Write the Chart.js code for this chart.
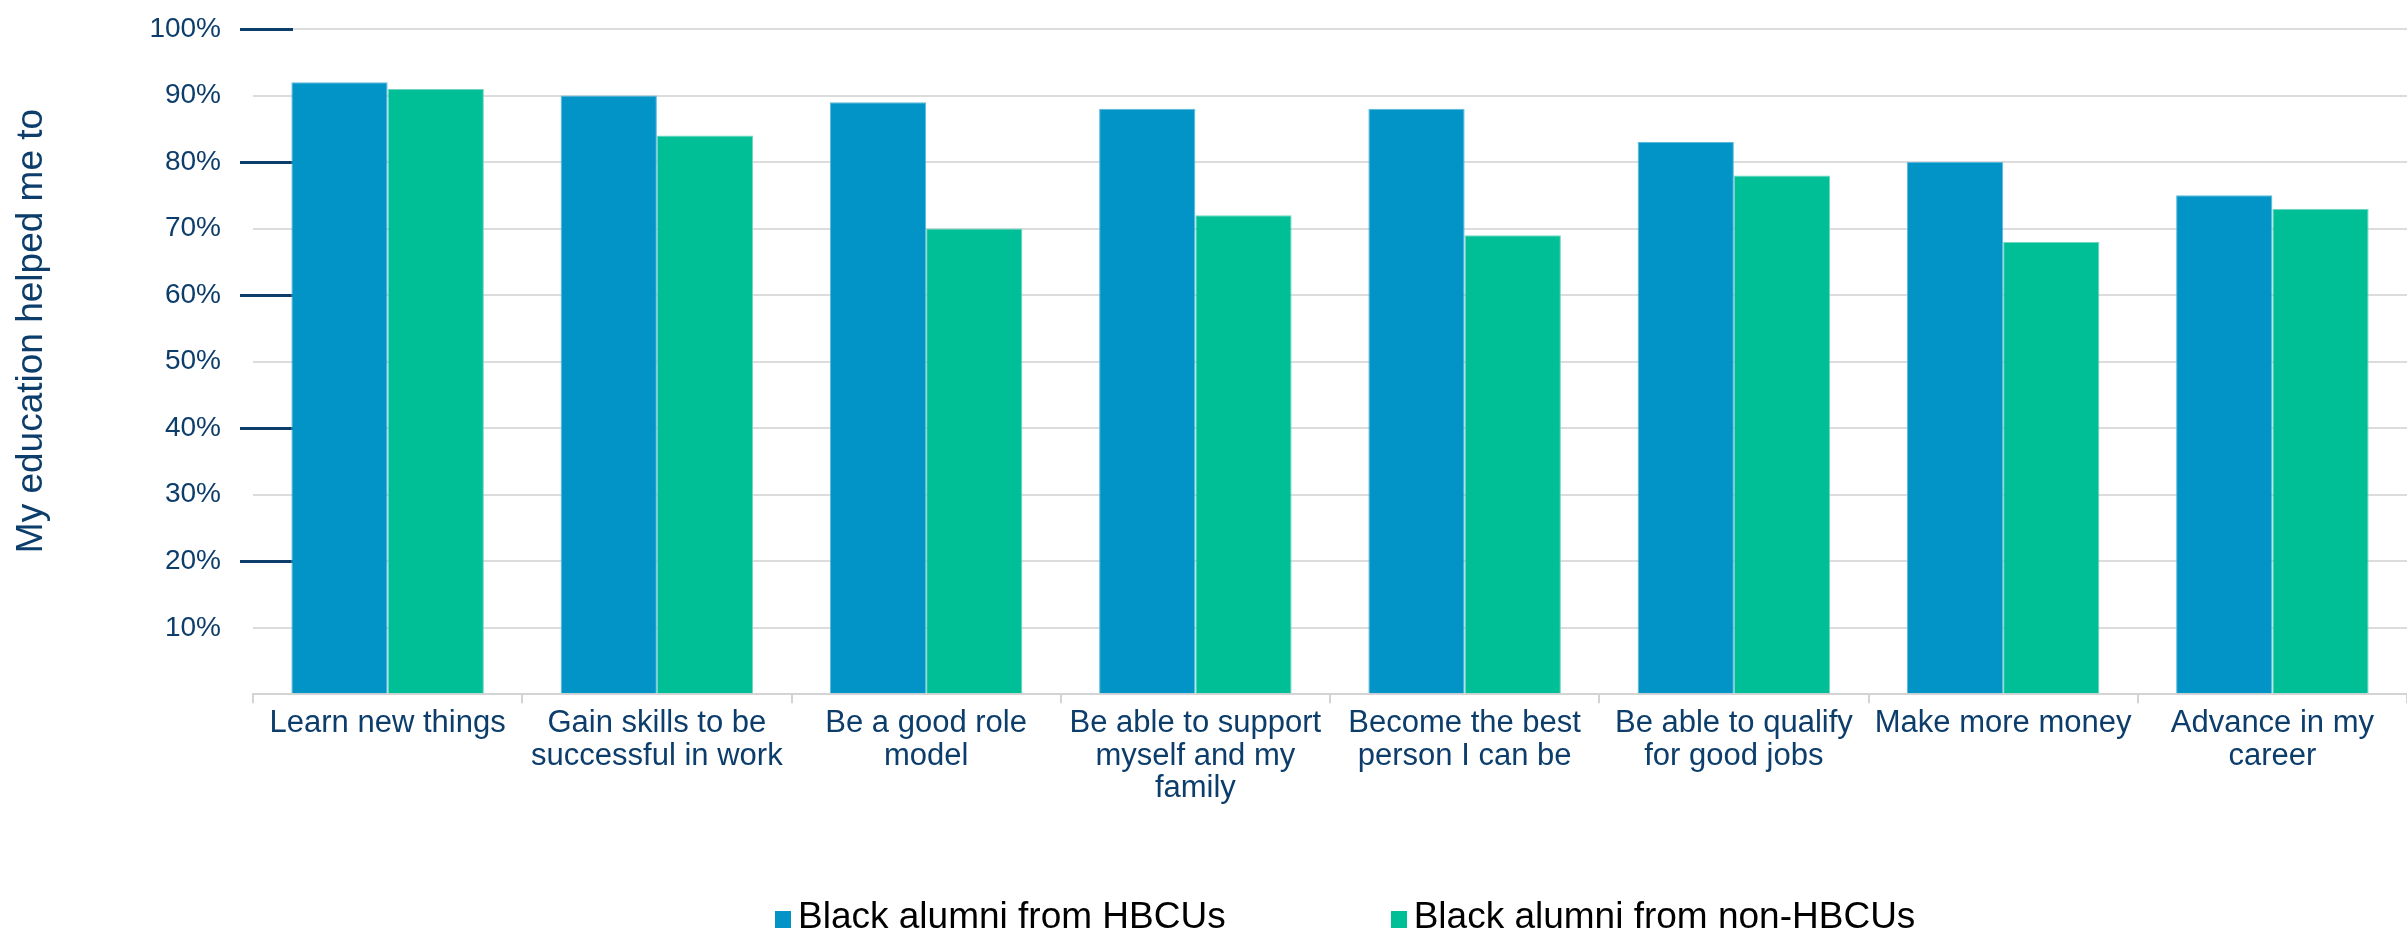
<!DOCTYPE html>
<html lang="en">

<head>
    <meta charset="UTF-8">
    <title>My education helped me to</title>
    <style>
        html,
        body {
            margin: 0;
            padding: 0;
            background: #fff;
        }

        #wrap {
            position: relative;
            width: 2407px;
            height: 933px;
        }

        #legend {
            position: absolute;
            left: 775px;
            top: 897px;
            font-family: "Liberation Sans", Arial, sans-serif;
            font-size: 37px;
            line-height: 37px;
            color: #000;
            white-space: nowrap;
        }

        #legend .box {
            display: inline-block;
            width: 16px;
            height: 17px;
            margin-right: 7px;
            vertical-align: baseline;
        }

        #legend .item + .item {
            margin-left: 165px;
        }
    </style>
    <script src="https://cdn.jsdelivr.net/npm/chart.js"></script>
</head>

<body>
    <div id="wrap">
        <canvas id="chart" width="2407" height="933"></canvas>
        <div id="legend"></div>
    </div>

    <script>
        const categories = [
            'Learn new things',
            ['Gain skills to be', 'successful in work'],
            ['Be a good role', 'model'],
            ['Be able to support', 'myself and my', 'family'],
            ['Become the best', 'person I can be'],
            ['Be able to qualify', 'for good jobs'],
            'Make more money',
            ['Advance in my', 'career']
        ];
        const seriesNames = ['Black alumni from HBCUs', 'Black alumni from non-HBCUs'];
        const hbcuValues = [92, 90, 89, 88, 88, 83, 80, 75];
        const nonHbcuValues = [91, 84, 70, 72, 69, 78, 68, 73];
        const yTitle = 'My education helped me to';
        const markedTicks = [20, 40, 60, 80, 100];

        const navy = '#0c3d6b';
        const blue = '#0293c7';
        const green = '#00bf96';
        const font = '"Liberation Sans", Arial, sans-serif';

        // rotated axis title, sits a bit above the middle of the plot
        const yTitlePlugin = {
            id: 'yTitle',
            afterDraw(chart) {
                const ctx = chart.ctx;
                ctx.save();
                ctx.translate(42, 331);
                ctx.rotate(-Math.PI / 2);
                ctx.font = '37px ' + font;
                ctx.fillStyle = navy;
                ctx.textAlign = 'center';
                ctx.textBaseline = 'alphabetic';
                ctx.fillText(yTitle, 0, 0);
                ctx.restore();
            }
        };

        // dark dashes across the y axis at every other step
        const tickDashPlugin = {
            id: 'tickDash',
            beforeDatasetsDraw(chart) {
                const ctx = chart.ctx;
                const y = chart.scales.y;
                const left = chart.chartArea.left;
                ctx.save();
                ctx.strokeStyle = navy;
                ctx.lineWidth = 3;
                markedTicks.forEach(v => {
                    const py = Math.round(y.getPixelForValue(v)) + 0.5;
                    ctx.beginPath();
                    ctx.moveTo(left - 13, py);
                    ctx.lineTo(left + 40, py);
                    ctx.stroke();
                });
                ctx.restore();
            }
        };

        const ctx = document.getElementById('chart').getContext('2d');
        new Chart(ctx, {
            type: 'bar',
            data: {
                labels: categories,
                datasets: [{
                    label: seriesNames[0],
                    data: hbcuValues,
                    backgroundColor: blue,
                    borderColor: '#5cb8dc',
                    borderWidth: 1
                }, {
                    label: seriesNames[1],
                    data: nonHbcuValues,
                    backgroundColor: green,
                    borderColor: '#6fd6c0',
                    borderWidth: 1
                }]
            },
            options: {
                responsive: false,
                animation: false,
                layout: {
                    padding: { top: 29, left: 149, right: -6, bottom: 124 }
                },
                datasets: {
                    bar: {
                        categoryPercentage: 0.715,
                        barPercentage: 1
                    }
                },
                plugins: {
                    legend: { display: false },
                    tooltip: { enabled: false }
                },
                scales: {
                    x: {
                        afterFit(scale) {
                            scale.paddingLeft = 0;
                            scale.paddingRight = 0;
                        },
                        grid: {
                            display: true,
                            drawOnChartArea: false,
                            drawTicks: true,
                            tickLength: 9,
                            color: '#d4d4d4',
                            lineWidth: 2
                        },
                        border: { display: true, color: '#d4d4d4', width: 2 },
                        ticks: {
                            color: navy,
                            font: { family: font, size: 31, lineHeight: 1.05 },
                            maxRotation: 0,
                            autoSkip: false,
                            padding: 4
                        }
                    },
                    y: {
                        min: 0,
                        max: 100,
                        afterFit(scale) {
                            scale.width = 104;
                            scale.paddingTop = 0;
                            scale.paddingBottom = 0;
                        },
                        grid: {
                            color: '#dcdcdc',
                            lineWidth: 2,
                            drawTicks: false
                        },
                        border: { display: false },
                        ticks: {
                            stepSize: 10,
                            color: navy,
                            font: { family: font, size: 28 },
                            padding: 32,
                            callback: v => v === 0 ? '' : v + '%'
                        }
                    }
                }
            },
            plugins: [tickDashPlugin, yTitlePlugin]
        });

        // legend row under the chart
        const legend = document.getElementById('legend');
        [blue, green].forEach((c, i) => {
            const item = document.createElement('span');
            item.className = 'item';
            item.innerHTML = '<span class="box" style="background:' + c + '"></span>' + seriesNames[i];
            legend.appendChild(item);
        });
    </script>
</body>

</html>
